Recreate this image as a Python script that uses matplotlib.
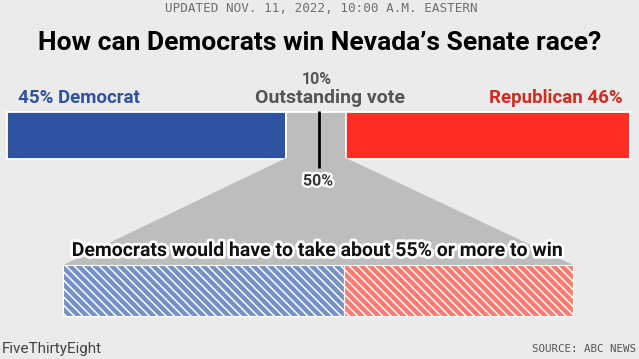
import matplotlib
matplotlib.use("Agg")
import matplotlib.pyplot as plt
import matplotlib.patheffects as pe
from matplotlib.patches import Polygon

# Vote shares counted so far (percent of expected vote)
dem_share = 44.8
outstanding_share = 9.6
rep_share = 45.6
# split of the outstanding vote Democrats would need
need_dem = 55
need_rep = 45

W, H = 639, 359
BG = "#ebebeb"
BLUE, RED, GRAY = "#2f53a1", "#ff2d23", "#bdbdbd"
BLUE_L, RED_L = "#7690c9", "#ff7a6e"

plt.rcParams["hatch.linewidth"] = 1.1
plt.rcParams["font.family"] = ["Roboto", "DejaVu Sans"]

fig = plt.figure(figsize=(W / 100, H / 100), dpi=100, facecolor=BG)
ax = fig.add_axes([0, 0, 1, 1])
ax.set_facecolor(BG)
# x in percent of the top bar, y in pixels from the top
ax.set_xlim(-7 / 6.23, 100 + 9 / 6.23)
ax.set_ylim(H, 0)
ax.axis("off")

def fx(x):
    return x / W

def fy(y):
    return 1 - y / H

# top bar
top_y, top_h = 135, 47
ax.barh(top_y, dem_share, height=top_h, left=0, color=BLUE, edgecolor="white", lw=1.3)
ax.barh(top_y, outstanding_share, height=top_h, left=dem_share, color=GRAY,
        edgecolor="white", lw=1.3)
ax.barh(top_y, rep_share, height=top_h, left=dem_share + outstanding_share, color=RED,
        edgecolor="white", lw=1.3)

# zoomed outstanding-vote bar
bot_left, bot_width = 9.0, 81.9
bot_y, bot_h = 290.5, 51
top_bottom = top_y + top_h / 2
bot_top = bot_y - bot_h / 2
ax.add_patch(Polygon([(dem_share, top_bottom - 0.5),
                      (dem_share + outstanding_share, top_bottom - 0.5),
                      (bot_left + bot_width, bot_top),
                      (bot_left, bot_top)],
                     closed=True, color=GRAY, lw=0, zorder=1))
dem_w = bot_width * need_dem / 100
rep_w = bot_width * need_rep / 100
ax.barh(bot_y, dem_w, height=bot_h, left=bot_left, color=BLUE_L,
        edgecolor="white", lw=0.8, hatch="\\" * 4, zorder=2)
ax.barh(bot_y, rep_w, height=bot_h, left=bot_left + dem_w, color=RED_L,
        edgecolor="white", lw=0.8, hatch="\\" * 4, zorder=2)

# 50% marker
ax.plot([50, 50], [111, 168], color="black", lw=2, solid_capstyle="butt", zorder=3)
stroke = [pe.withStroke(linewidth=3.5, foreground="white")]
fig.text(fx(318), fy(181), "50%", ha="center", va="center", fontsize=11.5,
         weight="bold", color="#333333", path_effects=stroke)

# labels
fig.text(fx(321), fy(9), "UPDATED NOV. 11, 2022, 10:00 A.M. EASTERN", ha="center",
         va="center", fontsize=9.1, family="DejaVu Sans Mono", color="#707070")
fig.text(fx(320), fy(43), "How can Democrats win Nevada\u2019s Senate race?", ha="center",
         va="center", fontsize=19, weight="bold", color="black")
fig.text(fx(317), fy(79), f"{round(outstanding_share)}%", ha="center", va="center",
         fontsize=11.5, weight="bold", color="#555555")
fig.text(fx(330), fy(98), "Outstanding vote", ha="center", va="center",
         fontsize=14, weight="bold", color="#555555")
fig.text(fx(18), fy(98), f"{round(dem_share)}% Democrat", ha="left", va="center",
         fontsize=13.5, weight="bold", color="#2f53a1")
fig.text(fx(623), fy(98), f"Republican {round(rep_share)}%", ha="right", va="center",
         fontsize=13.5, weight="bold", color="#d42a20")
fig.text(fx(318), fy(251), f"Democrats would have to take about {need_dem}% or more to win",
         ha="center", va="center", fontsize=14, weight="bold", color="#111111",
         path_effects=[pe.withStroke(linewidth=4, foreground="white")], zorder=5)

fig.text(fx(2), fy(349), "FiveThirtyEight", ha="left", va="center", fontsize=11,
         color="#444444")
fig.text(fx(636), fy(349), "SOURCE: ABC NEWS", ha="right", va="center", fontsize=7.8,
         family="DejaVu Sans Mono", color="#555555")

fig.savefig("out.png", dpi=100, facecolor=BG)
